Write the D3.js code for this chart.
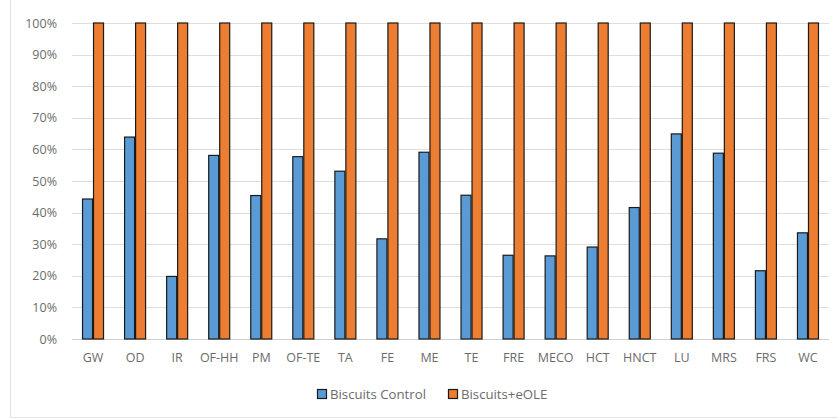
<!DOCTYPE html>
<html><head><meta charset="utf-8">
<script src="https://cdn.jsdelivr.net/npm/d3@7"></script>
<style>body{margin:0;background:#fff}svg{display:block}text{font-family:"Open Sans",sans-serif;fill:#6b6b6b}</style>
</head><body><svg id="c" width="838" height="419"></svg>
<script>
const categories = ["GW","OD","IR","OF-HH","PM","OF-TE","TA","FE","ME","TE","FRE","MECO","HCT","HNCT","LU","MRS","FRS","WC"];
const controlValues = [44.3,63.9,19.8,58.1,45.4,57.7,53.1,31.7,59.1,45.5,26.5,26.3,29.1,41.6,64.9,58.8,21.6,33.6];
const eoleValues = [100,100,100,100,100,100,100,100,100,100,100,100,100,100,100,100,100,100];
const seriesNames = ["Biscuits Control","Biscuits+eOLE"];
const colors = ["#5B9BD5","#ED7D31"];
const yTicks = [0,10,20,30,40,50,60,70,80,90,100];

const svg = d3.select("#c");
const plotL = 72, plotR = 829, plotT = 23, plotB = 339;
const x = d3.scaleBand().domain(categories).range([plotL, plotR]).paddingInner(0).paddingOuter(0);
const y = d3.scaleLinear().domain([0,100]).range([plotB, plotT]);
const inner = d3.scaleBand().domain([0,1]).range([0, 22]);

// frame
svg.append("line").attr("x1",10.5).attr("x2",10.5).attr("y1",0).attr("y2",417.5).attr("stroke","#e3e3e3");
svg.append("line").attr("x1",10).attr("x2",838).attr("y1",417.5).attr("y2",417.5).attr("stroke","#e3e3e3");

// grid
svg.append("g").selectAll("line").data(yTicks).join("line")
  .attr("x1",plotL).attr("x2",plotR)
  .attr("y1",d=>Math.round(y(d))+0.5).attr("y2",d=>Math.round(y(d))+0.5)
  .attr("stroke",d=>d===0?"#d0d0d0":"#dedede").attr("stroke-width",1);

// y axis labels
const yAxis = d3.axisLeft(y).tickValues(yTicks).tickFormat(d=>d+"%").tickSize(0).tickPadding(15);
const gy = svg.append("g").attr("transform",`translate(${plotL},0)`).call(yAxis);
gy.select(".domain").remove();
gy.selectAll("text").style("font-size","12.5px").attr("fill","#6b6b6b");

// x axis labels
const xAxis = d3.axisBottom(x).tickSize(0).tickPadding(14);
const gx = svg.append("g").attr("transform",`translate(0,${plotB})`).call(xAxis);
gx.select(".domain").remove();
gx.selectAll("text").style("font-size","12.5px").attr("fill","#6b6b6b");

// bars
const data = categories.map((c,i)=>({c, vals:[controlValues[i], eoleValues[i]]}));
const groups = svg.append("g").selectAll("g").data(data).join("g")
  .attr("transform",d=>`translate(${x(d.c)+x.bandwidth()/2-11},0)`);
groups.selectAll("rect").data(d=>d.vals.map((v,k)=>({v,k}))).join("rect")
  .attr("x",d=>inner(d.k)+0.5)
  .attr("width",inner.bandwidth()-1)
  .attr("y",d=>y(d.v))
  .attr("height",d=>y(0)-y(d.v))
  .attr("fill",d=>colors[d.k])
  .attr("stroke","#1a1a1a").attr("stroke-width",1.2);

// legend
const legX = [317, 448];
const lg = svg.append("g").selectAll("g").data(seriesNames).join("g")
  .attr("transform",(d,i)=>`translate(${legX[i]},389)`);
lg.append("rect").attr("x",0.5).attr("y",0.5).attr("width",9).attr("height",9)
  .attr("fill",(d,i)=>colors[i]).attr("stroke","#1a1a1a").attr("stroke-width",1.2);
lg.append("text").attr("x",13).attr("y",5).attr("dy","0.35em").style("font-size","13.2px").text(d=>d);
</script></body></html>
